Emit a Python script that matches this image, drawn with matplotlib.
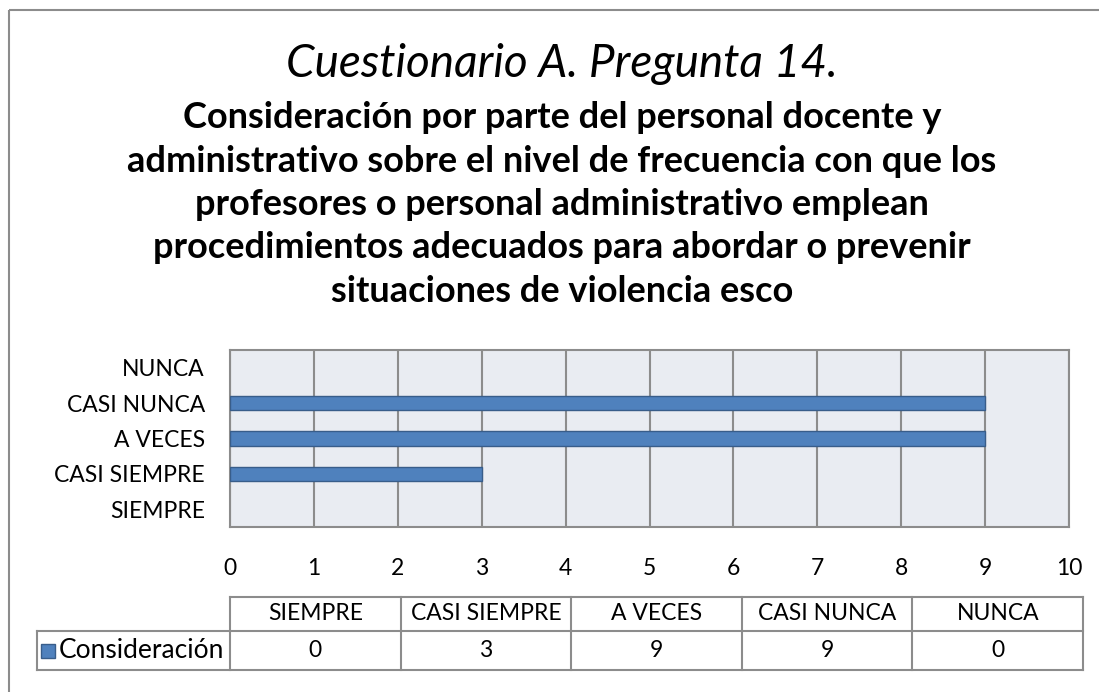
import matplotlib
matplotlib.use("Agg")
import matplotlib.pyplot as plt
from matplotlib.patches import Rectangle

# data
categorias = ["SIEMPRE", "CASI SIEMPRE", "A VECES", "CASI NUNCA", "NUNCA"]
valores = [0, 3, 9, 9, 0]
serie = "Consideración"
titulo = "Cuestionario A. Pregunta 14."
subtitulo = ["Consideración por parte del personal docente y",
             "administrativo sobre el nivel de frecuencia con que los",
             "profesores o personal administrativo emplean",
             "procedimientos adecuados para abordar o prevenir",
             "situaciones de violencia esco"]
xticks = list(range(0, 11))

plt.rcParams['font.family'] = ['Lato', 'DejaVu Sans']
W, H = 1099, 692
fig = plt.figure(figsize=(W / 100, H / 100), dpi=100)

bar_col = "#4F81BD"
edge_col = "#385D8A"
grid_col = "#8C8C8C"
fs = 16.5

# overlay in pixel coords for border, titles and data table
ov = fig.add_axes([0, 0, 1, 1])
ov.set_xlim(0, W)
ov.set_ylim(H, 0)
ov.axis("off")
ov.add_patch(Rectangle((9, 10), W, H, fill=False, edgecolor="#8C8C8C", lw=1.5))

ov.text(562, 64, titulo, ha="center", va="center", fontsize=33, style="italic")
for i, line in enumerate(subtitulo):
    ov.text(562, 118 + 43.3 * i, line, ha="center", va="center",
            fontsize=26, fontweight="bold")

# bar chart
x0, x1, y0, y1 = 230, 1069, 350, 527
ax = fig.add_axes([x0 / W, 1 - y1 / H, (x1 - x0) / W, (y1 - y0) / H])
ax.set_facecolor("#E9ECF2")
ypos = list(range(len(categorias)))
ax.barh(ypos, valores, height=0.4, color=bar_col, edgecolor=edge_col,
        linewidth=[1 if v else 0 for v in valores], zorder=3)
ax.set_xlim(0, 10)
ax.set_ylim(-0.5, len(categorias) - 0.5)
ax.set_yticks(ypos)
ax.set_yticklabels(categorias, fontsize=fs)
ax.set_xticks(xticks)
ax.tick_params(axis="x", labelsize=fs, length=0, pad=22)
ax.tick_params(axis="y", length=0, pad=18)
ax.xaxis.grid(True, color=grid_col, lw=1.5, zorder=1)
for s in ax.spines.values():
    s.set_color(grid_col)
    s.set_linewidth(1.5)

# data table
tx = [230 + i * (1083 - 230) / len(categorias) for i in range(len(categorias) + 1)]
ty0, ty1, ty2 = 597, 631, 670
lc = "#8C8C8C"
ov.plot([tx[0], tx[-1]], [ty0, ty0], color=lc, lw=1.5)
ov.plot([37, tx[-1]], [ty1, ty1], color=lc, lw=1.5)
ov.plot([37, tx[-1]], [ty2, ty2], color=lc, lw=1.5)
ov.plot([37, 37], [ty1, ty2], color=lc, lw=1.5)
for x in tx:
    ov.plot([x, x], [ty0, ty2], color=lc, lw=1.5)
for i, (c, v) in enumerate(zip(categorias, valores)):
    cx = (tx[i] + tx[i + 1]) / 2
    ov.text(cx, (ty0 + ty1) / 2, c, ha="center", va="center", fontsize=fs)
    ov.text(cx, (ty1 + ty2) / 2, str(v), ha="center", va="center", fontsize=fs)
ov.add_patch(Rectangle((41, 644), 14, 14, facecolor=bar_col, edgecolor=edge_col, lw=1))
ov.text(59, (ty1 + ty2) / 2, serie, ha="left", va="center", fontsize=fs + 2.5)

fig.savefig("out.png", dpi=100)
